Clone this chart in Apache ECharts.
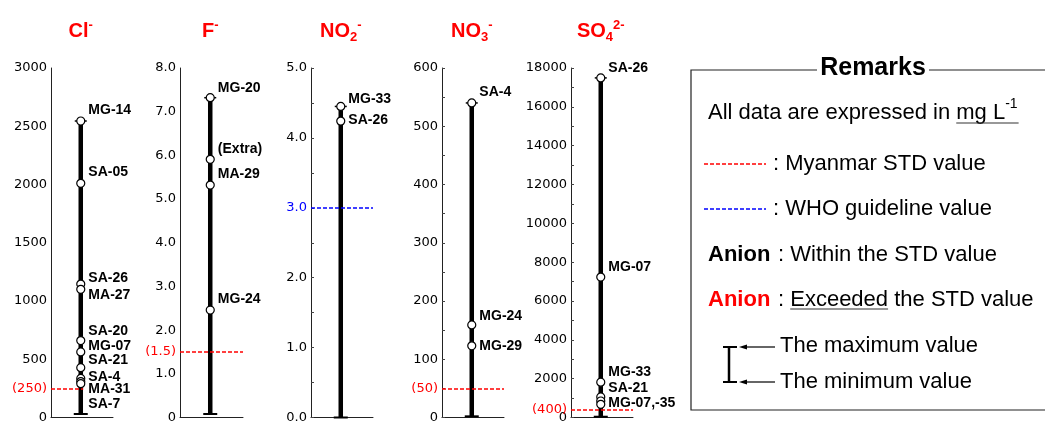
<!DOCTYPE html>
<html><head><meta charset="utf-8">
<script src="https://cdn.jsdelivr.net/npm/echarts@6/dist/echarts.min.js"></script>
<style>html,body{margin:0;padding:0;background:#fff}#c{width:1045px;height:424px}</style>
</head><body><div id="c"></div>
<script>
// ---------- DATA ----------
const clNames  = ['MG-14','SA-05','SA-26','MA-27','SA-20','MG-07','SA-21','SA-4','MA-31','SA-7'];
const clValues = [2545, 2010, 1145, 1100, 660, 563, 428, 335, 308, 290];
const clRange  = [30, 2545];
const clStd    = 250;
const clTicks  = ['0','500','1000','1500','2000','2500','3000'];

const fNames   = ['MG-20','(Extra)','MA-29','MG-24'];
const fValues  = [7.32, 5.91, 5.32, 2.46];
const fRange   = [0.08, 7.32];
const fStd     = 1.5;
const fTicks   = ['0','1.0','2.0','3.0','4.0','5.0','6.0','7.0','8.0'];

const no2Names  = ['MG-33','SA-26'];
const no2Values = [4.45, 4.24];
const no2Range  = [0, 4.45];
const no2Who    = 3.0;
const no2Ticks  = ['0.0','1.0','2.0','3.0','4.0','5.0'];

const no3Names  = ['SA-4','MG-24','MG-29'];
const no3Values = [540, 159, 123];
const no3Range  = [2, 540];
const no3Std    = 50;
const no3Ticks  = ['0','100','200','300','400','500','600'];

const so4Names  = ['SA-26','MG-07','MG-33','SA-21','MG-07,-35',''];
const so4Values = [17490, 7230, 1820, 1060, 850, 680];
const so4Range  = [40, 17490];
const so4Std    = 400;
const so4Ticks  = ['0','2000','4000','6000','8000','10000','12000','14000','16000','18000'];

const titleMain = ['Cl','F','NO','NO','SO'];
const titleSub  = ['','','2','3','4'];
const titleSup  = ['-','-','-','-','2-'];

// ---------- STYLE / LAYOUT ----------
const clDy  = [-11,-11,-6,6,-9,-6,-7,-1,8,20];
const fDy   = [-10,-10,-11,-11];
const no2Dy = [-7,-1];
const no3Dy = [-11,-9,0];
const so4Dy = [-10,-10,-10,-9,2,0];

const RED = '#ff0000', BLUE = '#0000ff';
const SANS = 'Liberation Sans';
const TICKF = 'DejaVu Sans';
const gridLefts  = [51, 180, 311, 442, 571];
const gridWidths = [62, 63, 62, 62, 62];
const GTOP = 68, GH = 352;
const WX = 0.48;

const panels = [
  {names:clNames, values:clValues, range:clRange, std:clStd, stdLabel:'(250)', color:RED, ticks:clTicks, dy:clDy, minor:false, stdEnd:0.52, lblPad:0},
  {names:fNames, values:fValues, range:fRange, std:fStd, stdLabel:'(1.5)', color:RED, ticks:fTicks, dy:fDy, minor:false, stdEnd:1, lblPad:0},
  {names:no2Names, values:no2Values, range:no2Range, std:no2Who, stdLabel:'', color:BLUE, ticks:no2Ticks, dy:no2Dy, minor:true, stdEnd:1, lblPad:0, blueTick:3},
  {names:no3Names, values:no3Values, range:no3Range, std:no3Std, stdLabel:'(50)', color:RED, ticks:no3Ticks, dy:no3Dy, minor:true, stdEnd:1, lblPad:0},
  {names:so4Names, values:so4Values, range:so4Range, std:so4Std, stdLabel:'(400)', color:RED, ticks:so4Ticks, dy:so4Dy, minor:true, stdEnd:1, lblPad:12}
];

function renderWhisker(params, api){
  const x = api.value(0);
  const lo = api.coord([x, api.value(1)]);
  const hi = api.coord([x, api.value(2)]);
  return {type:'group', children:[
    {type:'line', shape:{x1:lo[0],y1:lo[1],x2:hi[0],y2:hi[1]}, style:{stroke:'#000', lineWidth:4.5}},
    {type:'line', shape:{x1:hi[0]-6,y1:hi[1],x2:hi[0]+6,y2:hi[1]}, style:{stroke:'#000', lineWidth:1.5}},
    {type:'line', shape:{x1:lo[0]-7,y1:lo[1],x2:lo[0]+7,y2:lo[1]}, style:{stroke:'#000', lineWidth:2}}
  ]};
}

const grids=[], xAxes=[], yAxes=[], series=[];
panels.forEach((p,i)=>{
  grids.push({left:gridLefts[i], width:gridWidths[i], top:GTOP, height:GH});
  xAxes.push({type:'value', gridIndex:i, min:0, max:1, axisLine:{show:true, onZero:false, lineStyle:{color:'#222', width:1}},
    axisTick:{show:false}, axisLabel:{show:false}, splitLine:{show:false}});
  const max = Number(p.ticks[p.ticks.length-1]);
  const interval = Number(p.ticks[1]);
  yAxes.push({type:'value', gridIndex:i, min:0, max:max, interval:interval,
    axisLine:{show:true, lineStyle:{color:'#222', width:1}},
    axisTick:{show:p.minor, inside:true, length:3, lineStyle:{color:'#444'}},
    minorTick:{show:p.minor, splitNumber:2, length:3, lineStyle:{color:'#444'}},
    splitLine:{show:false},
    axisLabel:{margin:4, fontFamily:TICKF, fontSize:13, color:'#000',
      formatter:(v,idx)=> (p.blueTick===idx ? '{b|'+p.ticks[idx]+'}' : p.ticks[idx]),
      rich:{b:{color:BLUE, fontFamily:TICKF, fontSize:13}}}
  });
  series.push({type:'custom', xAxisIndex:i, yAxisIndex:i, renderItem:renderWhisker, encode:{x:0, y:[1,2]},
    data:[[WX, p.range[0], p.range[1]]], z:3, silent:true});
  series.push({type:'scatter', xAxisIndex:i, yAxisIndex:i, symbol:'circle', symbolSize:8, z:5, silent:true,
    itemStyle:{color:'#fff', borderColor:'#000', borderWidth:1.2, opacity:1},
    label:{show:true, position:'right', distance:3, formatter:'{b}', fontFamily:SANS, fontWeight:'bold', fontSize:14, color:'#000', opacity:1},
    data:p.values.map((v,k)=>({name:p.names[k], value:[WX, v], label:{offset:[0,p.dy[k]]}})),
    markLine:{silent:true, symbol:['none','none'], animation:false,
      lineStyle:{type:[4,2], color:p.color, width:1.5, opacity:1},
      label:{show:!!p.stdLabel, position:'start', distance:4, formatter:p.stdLabel, color:p.color, fontFamily:TICKF, fontSize:13, padding:[0,0,p.lblPad,0]},
      emphasis:{disabled:true},
      data:[[{coord:[0,p.std]},{coord:[p.stdEnd,p.std]}]]}
  });
});

// ---------- graphics: titles + remarks ----------
const mctx = document.createElement('canvas').getContext('2d');
function tw(text, font){ mctx.font = font; return mctx.measureText(text).width; }
const g = [];
function txt(x,y,text,size,weight,color,align){
  g.push({type:'text', x:x, y:y, silent:true, style:{text:text, fontFamily:SANS, fontSize:size, fontWeight:weight||'normal', fill:color||'#000', align:align||'left', verticalAlign:'middle'}});
}
titleMain.forEach((m,i)=>{
  const cx = gridLefts[i] + WX*gridWidths[i];
  const fm = 'bold 20px "'+SANS+'"', fs = 'bold 13px "'+SANS+'"';
  const wm = tw(m,fm), ws = tw(titleSub[i],fs), wp = tw(titleSup[i],fs);
  const x0 = cx - (wm+ws+wp)/2;
  txt(x0, 31, m, 20, 'bold', RED);
  if (titleSub[i]) txt(x0+wm, 37, titleSub[i], 13, 'bold', RED);
  txt(x0+wm+ws, 25, titleSup[i], 13, 'bold', RED);
});

// remarks box
g.push({type:'polyline', silent:true, shape:{points:[[817,70],[691,70],[691,410],[1050,410],[1050,70],[929,70]]}, style:{stroke:'#222', lineWidth:1.2, fill:null}});
txt(873, 68, 'Remarks', 25, 'bold', '#000', 'center');
const F22 = '22px "'+SANS+'"';
const s1 = 'All data are expressed in ';
txt(708, 113, s1, 22);
const xm = 708 + tw(s1, F22);
txt(xm, 113, 'mg L', 22);
const xs = xm + tw('mg L', F22);
txt(xs, 104, '-1', 14);
g.push({type:'line', silent:true, shape:{x1:xm, y1:123, x2:xs+tw('-1','14px "'+SANS+'"')+1, y2:123}, style:{stroke:'#333', lineWidth:1.2}});
g.push({type:'line', silent:true, shape:{x1:704, y1:164, x2:766, y2:164}, style:{stroke:RED, lineWidth:1.5, lineDash:[4,2]}});
txt(773, 164, ': Myanmar STD value', 22);
g.push({type:'line', silent:true, shape:{x1:704, y1:209, x2:766, y2:209}, style:{stroke:BLUE, lineWidth:1.5, lineDash:[4,2]}});
txt(773, 209, ': WHO guideline value', 22);
txt(708, 255, 'Anion', 22, 'bold', '#000');
txt(778, 255, ': Within the STD value', 22);
txt(708, 300, 'Anion', 22, 'bold', RED);
txt(778, 300, ': ', 22);
const xe = 778 + tw(': ', F22);
txt(xe, 300, 'Exceeded the STD value', 22);
g.push({type:'line', silent:true, shape:{x1:xe, y1:309, x2:xe+tw('Exceeded',F22), y2:309}, style:{stroke:'#333', lineWidth:1.2}});
// I symbol
g.push({type:'line', silent:true, shape:{x1:729, y1:347, x2:729, y2:382}, style:{stroke:'#000', lineWidth:2.5}});
g.push({type:'line', silent:true, shape:{x1:723, y1:347, x2:737, y2:347}, style:{stroke:'#000', lineWidth:2}});
g.push({type:'line', silent:true, shape:{x1:723, y1:382, x2:737, y2:382}, style:{stroke:'#000', lineWidth:2}});
[347,382].forEach(y=>{
  g.push({type:'line', silent:true, shape:{x1:745, y1:y, x2:775, y2:y}, style:{stroke:'#000', lineWidth:1.2}});
  g.push({type:'polygon', silent:true, shape:{points:[[739,y],[747,y-2.5],[747,y+2.5]]}, style:{fill:'#000'}});
});
txt(780, 346, 'The maximum value', 22);
txt(780, 382, 'The minimum value', 22);

const chart = echarts.init(document.getElementById('c'), null, {renderer:'canvas'});
chart.setOption({animation:false, backgroundColor:'#fff', grid:grids, xAxis:xAxes, yAxis:yAxes, series:series, graphic:g});
</script></body></html>
